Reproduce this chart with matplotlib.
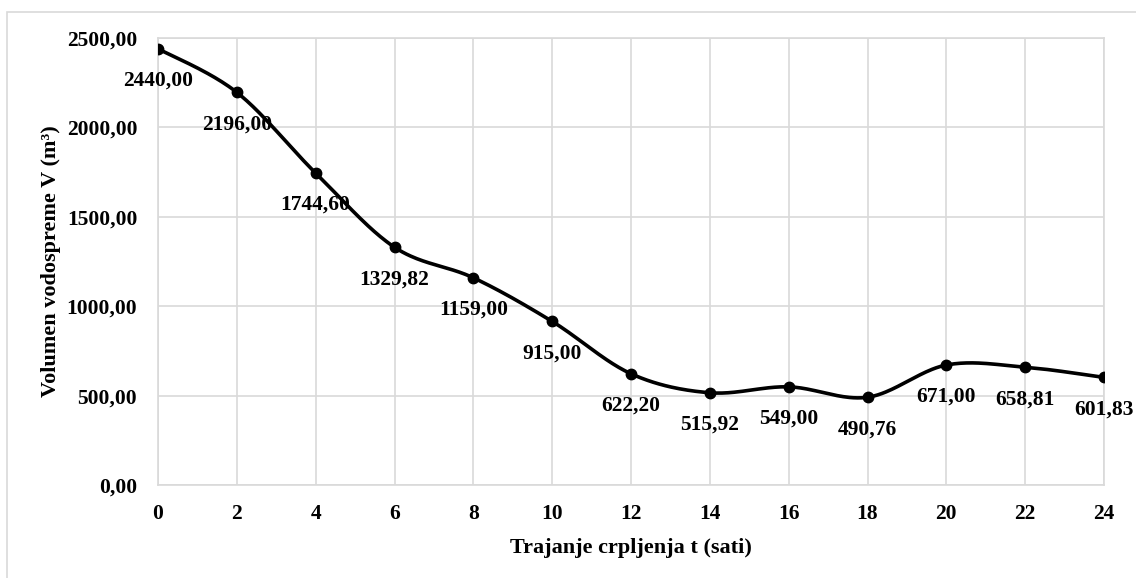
import matplotlib.pyplot as plt
from matplotlib.patches import Rectangle
import numpy as np

sati = [0, 2, 4, 6, 8, 10, 12, 14, 16, 18, 20, 22, 24]
volumen = [2440.00, 2196.00, 1744.60, 1329.82, 1159.00, 915.00, 622.20,
           515.92, 549.00, 490.76, 671.00, 658.81, 601.83]
oznake = ['2440,00', '2196,00', '1744,60', '1329,82', '1159,00', '915,00', '622,20',
          '515,92', '549,00', '490,76', '671,00', '658,81', '601,83']
y_ticks = [0, 500, 1000, 1500, 2000, 2500]
y_tick_labels = ['0,00', '500,00', '1000,00', '1500,00', '2000,00', '2500,00']


def excel_smooth(x, y, n=40):
    # Catmull-Rom style bezier, similar to Excel "smoothed line"
    x = np.asarray(x, float)
    y = np.asarray(y, float)
    xs, ys = [], []
    for i in range(len(x) - 1):
        x0, y0 = (x[i - 1], y[i - 1]) if i > 0 else (x[i], y[i])
        x3, y3 = (x[i + 2], y[i + 2]) if i + 2 < len(x) else (x[i + 1], y[i + 1])
        p1 = np.array([x[i], y[i]])
        p2 = np.array([x[i + 1], y[i + 1]])
        c1 = p1 + (p2 - np.array([x0, y0])) / 6
        c2 = p2 - (np.array([x3, y3]) - p1) / 6
        t = np.linspace(0, 1, n)[:, None]
        pts = (1 - t) ** 3 * p1 + 3 * (1 - t) ** 2 * t * c1 + 3 * (1 - t) * t ** 2 * c2 + t ** 3 * p2
        xs.extend(pts[:, 0])
        ys.extend(pts[:, 1])
    return xs, ys


plt.rcParams['font.family'] = ['Liberation Serif', 'DejaVu Serif']
plt.rcParams['font.weight'] = 'bold'

fig = plt.figure(figsize=(11.36, 5.78), dpi=100)
fig.patches.append(Rectangle((7 / 1136, -0.1), 1.2, 1 - 12 / 578 + 0.1,
                             transform=fig.transFigure, fill=False,
                             edgecolor='#d9d9d9', linewidth=1.2))
ax = fig.add_axes([158 / 1136, 1 - 485 / 578, (1104 - 158) / 1136, (485 - 38) / 578])

sx, sy = excel_smooth(sati, volumen)
ax.plot(sx, sy, color='black', linewidth=2.6, zorder=3)
ax.plot(sati, volumen, 'o', color='black', markersize=7.5, zorder=4)

for x, y, t in zip(sati, volumen, oznake):
    ax.annotate(t, (x, y), xytext=(0, -23), textcoords='offset points',
                ha='center', va='center', fontsize=15.5, fontweight='bold')

ax.set_xlim(0, 24)
ax.set_ylim(0, 2500)
ax.set_xticks(sati)
ax.set_yticks(y_ticks)
ax.set_yticklabels(y_tick_labels)
ax.tick_params(axis='x', length=0, labelsize=15.5, pad=14)
ax.tick_params(axis='y', length=0, labelsize=15.5, pad=15)
for lbl in ax.get_xticklabels() + ax.get_yticklabels():
    lbl.set_fontweight('bold')
ax.grid(True, color='#d9d9d9', linewidth=1.2)
ax.set_axisbelow(True)
for s in ax.spines.values():
    s.set_color('#d9d9d9')
    s.set_linewidth(1.2)

ax.set_xlabel('Trajanje crpljenja t (sati)', fontsize=16, fontweight='bold', labelpad=10)
ax.set_ylabel('Volumen vodospreme V (m³)', fontsize=16, fontweight='bold', labelpad=4)

plt.savefig('out.png', dpi=100)
